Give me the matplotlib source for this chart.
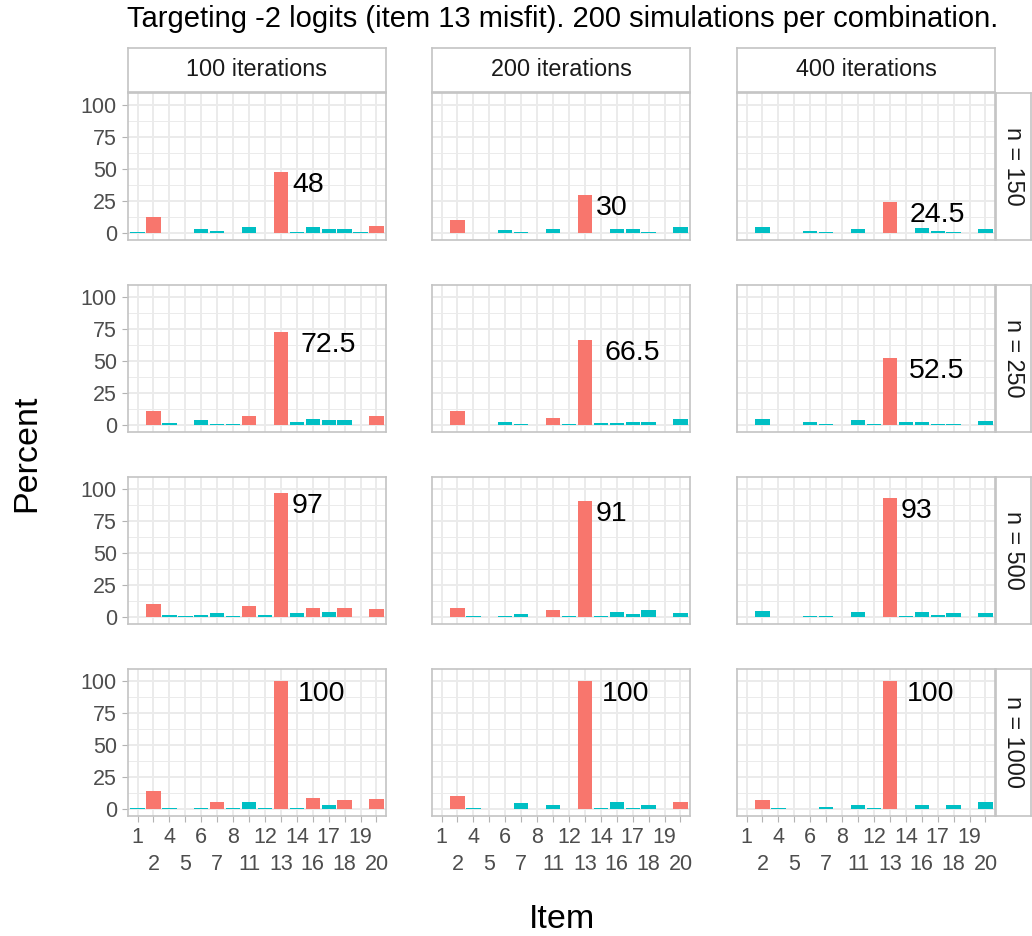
import matplotlib
matplotlib.use("Agg")
import matplotlib.pyplot as plt
import matplotlib.transforms as mtransforms
import numpy as np

plt.rcParams["font.family"] = ["Liberation Sans", "DejaVu Sans"]

# item labels (items 3, 9, 10, 15 not present)
items = ["1", "2", "4", "5", "6", "7", "8", "11", "12", "13", "14", "16", "17", "18", "19", "20"]
sample_sizes = [150, 250, 500, 1000]
iterations = [100, 200, 400]

# percent flagged per item, one list per (n, iterations) panel
pct_150_100 = [0.5, 12.5, 0, 0, 3, 1.5, 0, 4.5, 0, 48, 0.5, 4.5, 3, 3, 0.5, 5.5]
pct_150_200 = [0, 10, 0, 0, 2.5, 0.5, 0, 3, 0, 30, 0, 3, 3, 0.5, 0, 4.5]
pct_150_400 = [0, 5, 0, 0, 1.5, 0.5, 0, 3, 0, 24.5, 0, 4, 1.5, 0.5, 0, 3]
pct_250_100 = [0, 11, 1.5, 0, 3.5, 1, 0.5, 7, 0, 72.5, 2.5, 4.5, 3.5, 3.5, 0, 7]
pct_250_200 = [0, 11, 0, 0, 2, 0.5, 0, 5.5, 0.5, 66.5, 1.5, 1.5, 2.5, 2, 0, 5]
pct_250_400 = [0, 5, 0, 0, 2, 1, 0, 4, 0.5, 52.5, 2, 2, 0.5, 1, 0, 3]
pct_500_100 = [0, 10, 1.5, 0.5, 1.5, 3, 0.5, 8.5, 1.5, 97, 3, 7, 4, 7, 0, 6]
pct_500_200 = [0, 7, 0.5, 0, 0.5, 2.5, 0, 5.5, 0.5, 91, 0.5, 4, 2.5, 5.5, 0, 3]
pct_500_400 = [0, 4.5, 0, 0, 0.5, 0.5, 0, 4, 0, 93, 0.5, 4, 1.5, 3, 0, 3]
pct_1000_100 = [0.5, 14, 1, 0, 1, 5.5, 0.5, 5.5, 0.5, 100, 1, 8.5, 3, 7, 0, 8]
pct_1000_200 = [0, 10, 0.5, 0, 0, 4.5, 0, 3, 0, 100, 0.5, 5.5, 0.5, 3, 0, 5.5]
pct_1000_400 = [0, 7, 0.5, 0, 0, 1.5, 0, 3, 0.5, 100, 0, 3, 0, 3, 0, 5.5]

# items drawn in red in each panel
red_150_100 = ["2", "13", "20"]
red_150_200 = ["2", "13"]
red_150_400 = ["13"]
red_250_100 = ["2", "11", "13", "20"]
red_250_200 = ["2", "11", "13"]
red_250_400 = ["13"]
red_500_100 = ["2", "11", "13", "16", "18", "20"]
red_500_200 = ["2", "11", "13"]
red_500_400 = ["13"]
red_1000_100 = ["2", "7", "13", "16", "18", "20"]
red_1000_200 = ["2", "13", "20"]
red_1000_400 = ["2", "13"]

panels = {
    (150, 100): (pct_150_100, red_150_100), (150, 200): (pct_150_200, red_150_200),
    (150, 400): (pct_150_400, red_150_400), (250, 100): (pct_250_100, red_250_100),
    (250, 200): (pct_250_200, red_250_200), (250, 400): (pct_250_400, red_250_400),
    (500, 100): (pct_500_100, red_500_100), (500, 200): (pct_500_200, red_500_200),
    (500, 400): (pct_500_400, red_500_400), (1000, 100): (pct_1000_100, red_1000_100),
    (1000, 200): (pct_1000_200, red_1000_200), (1000, 400): (pct_1000_400, red_1000_400),
}

RED = "#F8766D"
CYAN = "#00BFC4"
GRID = "#EBEBEB"
BORDER = "#C4C4C4"

W, H = 1032, 936
fig = plt.figure(figsize=(W / 100, H / 100), dpi=100)
renderer = fig.canvas.get_renderer()


def box(x0, y0, x1, y1):
    # pixel box (top-left origin) -> figure coords
    return [x0 / W, 1 - y1 / H, (x1 - x0) / W, (y1 - y0) / H]


col_left = [128, 432, 737]
pw = 258
row_top = [93, 285, 477, 669]
ph = 147
x = np.arange(len(items))

for i, n in enumerate(sample_sizes):
    for j, it in enumerate(iterations):
        vals, reds = panels[(n, it)]
        ax = fig.add_axes(box(col_left[j], row_top[i], col_left[j] + pw, row_top[i] + ph))
        colors = [RED if lab in reds else CYAN for lab in items]
        ax.bar(x, vals, width=0.9, color=colors, zorder=3)
        ax.set_xlim(-0.6, len(items) - 0.4)
        ax.set_ylim(-5.5, 109.5)

        # value label for item 13, hjust ~ -0.35 like ggplot
        k = items.index("13")
        t = ax.text(x[k], vals[k], f"{vals[k]:g}", ha="left", va="top", fontsize=20.5,
                    color="black", zorder=4)
        wpx = t.get_window_extent(renderer).width
        t.set_transform(ax.transData + mtransforms.ScaledTranslation(0.35 * wpx / 100, 0, fig.dpi_scale_trans))

        # y axis: major + minor grid
        ax.set_yticks([0, 25, 50, 75, 100])
        ax.set_yticks([12.5, 37.5, 62.5, 87.5], minor=True)
        ax.grid(which="major", axis="y", color=GRID, lw=1.4, zorder=0)
        ax.grid(which="minor", axis="y", color=GRID, lw=0.7, zorder=0)
        # x axis: labels dodged over two rows (odd positions on major, even on minor)
        ax.set_xticks(x[0::2])
        ax.set_xticks(x[1::2], minor=True)
        ax.grid(which="both", axis="x", color=GRID, lw=1.4, zorder=0)
        ax.tick_params(which="both", color="#B3B3B3", length=4, width=0.8,
                       labelsize=15.5, labelcolor="#4D4D4D", pad=4)
        ax.tick_params(axis="x", which="minor", pad=23)
        ax.tick_params(axis="y", which="minor", length=0)
        for s in ax.spines.values():
            s.set_color(BORDER)
            s.set_linewidth(1.2)
        if j == 0:
            ax.set_yticklabels(["0", "25", "50", "75", "100"])
        else:
            ax.tick_params(axis="y", which="both", length=0, labelleft=False)
        if i == len(sample_sizes) - 1:
            ax.set_xticklabels(items[0::2])
            ax.set_xticklabels(items[1::2], minor=True)
        else:
            ax.tick_params(axis="x", which="both", length=0, labelbottom=False)

        # top strips
        if i == 0:
            sax = fig.add_axes(box(col_left[j], 48, col_left[j] + pw, 92))
            sax.set_xticks([])
            sax.set_yticks([])
            for s in sax.spines.values():
                s.set_color(BORDER)
                s.set_linewidth(1.2)
            sax.text(0.5, 0.5, f"{it} iterations", ha="center", va="center",
                     fontsize=16.8, color="#1A1A1A", transform=sax.transAxes)
        # right strips
        if j == len(iterations) - 1:
            sax = fig.add_axes(box(996, row_top[i], 1031, row_top[i] + ph))
            sax.set_xticks([])
            sax.set_yticks([])
            for s in sax.spines.values():
                s.set_color(BORDER)
                s.set_linewidth(1.2)
            sax.text(0.5, 0.5, f"n = {n}", ha="center", va="center", rotation=-90,
                     fontsize=16.8, color="#1A1A1A", transform=sax.transAxes)

fig.text(127 / W, 1 - 19 / H, "Targeting -2 logits (item 13 misfit). 200 simulations per combination.",
         ha="left", va="center", fontsize=21, color="black")
fig.text(27 / W, 1 - 453 / H, "Percent", rotation=90, ha="center", va="center", fontsize=24.5)
fig.text(562 / W, 1 - 919 / H, "Item", ha="center", va="center", fontsize=24.5)

fig.savefig("out.png", dpi=100)
